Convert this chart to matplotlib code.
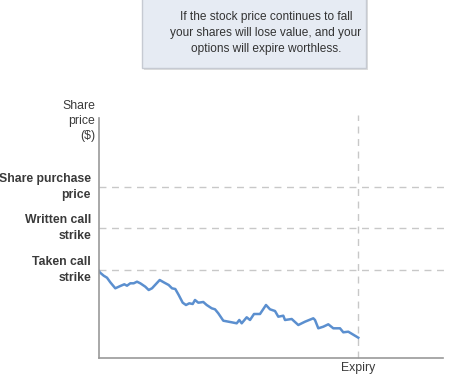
import matplotlib
matplotlib.use("Agg")
import matplotlib.pyplot as plt
from matplotlib.patches import FancyBboxPatch

plt.rcParams['font.family'] = ['Liberation Sans', 'DejaVu Sans']

# Price path (x: time units, y: price units)
path_x = [0, 0.7, 4.7, 8, 11.3, 16.3, 21.3, 25.3, 28, 31.3, 34.7, 38, 41.3, 46.3,
          49.7, 53, 60.7, 64.7, 69.7, 73, 76.3, 79.7, 83.7, 87, 90.3, 93.7, 96,
          99.3, 104.3, 107.7, 112.7, 116, 119.3, 124.3, 132.7, 137.7, 140.3, 142.7,
          147.7, 151, 155, 161, 167, 171, 176, 179.3, 184.3, 186, 192.7, 199.3,
          206, 214.3, 216, 219.3, 224.3, 229.3, 234.3, 241, 244.3, 249.3, 259.3]
path_y = [87, 85.7, 82.3, 80.3, 75.7, 69.7, 72, 73.7, 72.3, 74.7, 74.7, 76.3, 74.7,
          71.3, 68, 69.7, 78, 75.7, 73, 69.7, 69, 63, 55.3, 53, 54.7, 54, 58,
          55.3, 56, 53, 49.7, 48.7, 44.7, 37.3, 35.7, 34.7, 38, 34.7,
          40.7, 38, 44, 44, 53, 48.7, 47, 41.3, 42.3, 38, 39, 33,
          36.3, 39.7, 38, 29.7, 31.3, 33.7, 29.7, 29.7, 25.7, 26.3, 20.3]
levels = [171, 130, 88]
level_labels = ["Share purchase\nprice", "Written call\nstrike", "Taken call\nstrike"]
expiry_x = 259
note = "If the stock price continues to fall\nyour shares will lose value, and your\noptions will expire worthless."

fig = plt.figure(figsize=(4.5, 3.76), dpi=100)
W, H = 450, 376
ax = fig.add_axes([99 / W, 1 - 358 / H, 344 / W, 240 / H])
ax.set_xlim(0, 344)
ax.set_ylim(0, 240)
for s in ['top', 'right']:
    ax.spines[s].set_visible(False)
for s in ['left', 'bottom']:
    ax.spines[s].set_color('#999999')
    ax.spines[s].set_linewidth(1.2)
ax.set_xticks([])
ax.set_yticks([])

for lv, lab in zip(levels, level_labels):
    ax.plot([0, 350], [lv, lv], ls=(0, (5, 4)), color='#c8c8c8', lw=1, clip_on=False)
    ax.text(-8, lv, lab, ha='right', va='center', fontsize=8.8, fontweight='bold',
            color='#3a3a3a', linespacing=1.45)
ax.plot([expiry_x, expiry_x], [0, 243], ls=(0, (5, 4)), color='#c8c8c8', lw=1, clip_on=False)

ax.plot(path_x, path_y, color='#5b8fcf', lw=1.8)

ax.text(-4, 258, "Share\nprice\n($)", ha='right', va='top', fontsize=8.8,
        color='#3a3a3a', linespacing=1.35)
ax.text(expiry_x, -4, "Expiry", ha='center', va='top', fontsize=8.8, color='#3a3a3a')

# Annotation box
shadow = FancyBboxPatch((144 / W, 1 - 70 / H), 224 / W, 70 / H, boxstyle='square,pad=0',
                        transform=fig.transFigure, facecolor='#dedede', edgecolor='none')
fig.patches.append(shadow)
box = FancyBboxPatch((142 / W, 1 - 68 / H), 224 / W, 70 / H, boxstyle='square,pad=0',
                     transform=fig.transFigure, facecolor='#e6ebf3', edgecolor='#c6cad2', lw=1)
fig.patches.append(box)
fig.text(266 / W, 1 - 33 / H, note, ha='center', va='center', fontsize=8.6,
         color='#333333', linespacing=1.4)

fig.savefig("out.png", dpi=100)
